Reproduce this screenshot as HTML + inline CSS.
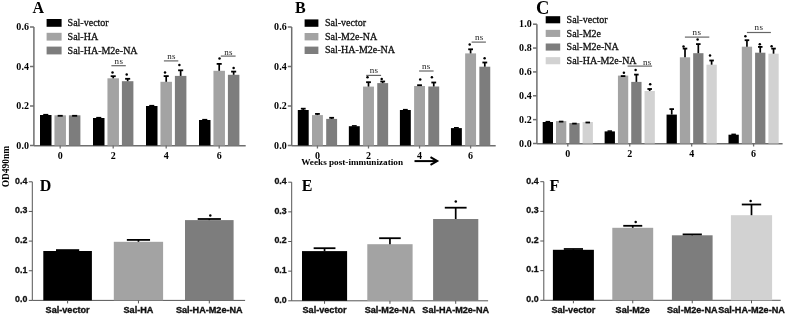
<!DOCTYPE html>
<html><head><meta charset="utf-8"><style>
html,body{margin:0;padding:0;background:#fff;width:787px;height:316px;overflow:hidden}
svg{display:block;will-change:transform}
</style></head><body>
<svg width="787" height="316" viewBox="0 0 787 316">
<rect width="787" height="316" fill="#fff"/>
<line x1="33.90" y1="27.00" x2="33.90" y2="145.70" stroke="#6e6e6e" stroke-width="1.5"/>
<line x1="33.90" y1="145.70" x2="245.70" y2="145.70" stroke="#6e6e6e" stroke-width="1.5"/>
<line x1="30.00" y1="145.50" x2="33.90" y2="145.50" stroke="#6e6e6e" stroke-width="1.5"/>
<text x="29.20" y="148.50" font-family='"Liberation Serif", serif' font-size="10" font-weight="bold" text-anchor="end" fill="#000" letter-spacing="0.15">0.0</text>
<line x1="30.00" y1="106.00" x2="33.90" y2="106.00" stroke="#6e6e6e" stroke-width="1.5"/>
<text x="29.20" y="109.00" font-family='"Liberation Serif", serif' font-size="10" font-weight="bold" text-anchor="end" fill="#000" letter-spacing="0.15">0.2</text>
<line x1="30.00" y1="66.50" x2="33.90" y2="66.50" stroke="#6e6e6e" stroke-width="1.5"/>
<text x="29.20" y="69.50" font-family='"Liberation Serif", serif' font-size="10" font-weight="bold" text-anchor="end" fill="#000" letter-spacing="0.15">0.4</text>
<line x1="30.00" y1="27.00" x2="33.90" y2="27.00" stroke="#6e6e6e" stroke-width="1.5"/>
<text x="29.20" y="30.00" font-family='"Liberation Serif", serif' font-size="10" font-weight="bold" text-anchor="end" fill="#000" letter-spacing="0.15">0.6</text>
<text x="38.20" y="12.80" font-family='"Liberation Serif", serif' font-size="16" font-weight="bold" text-anchor="middle" fill="#000" >A</text>
<rect x="46.60" y="19.00" width="15.00" height="7.80" fill="#000000"/>
<text x="67.60" y="26.00" font-family='"Liberation Serif", serif' font-size="10" font-weight="normal" text-anchor="start" fill="#111" stroke="#111" stroke-width="0.3">Sal-vector</text>
<rect x="46.60" y="32.80" width="15.00" height="7.80" fill="#a3a3a3"/>
<text x="67.60" y="39.80" font-family='"Liberation Serif", serif' font-size="10" font-weight="normal" text-anchor="start" fill="#111" stroke="#111" stroke-width="0.3">Sal-HA</text>
<rect x="46.60" y="46.60" width="15.00" height="7.80" fill="#7d7d7d"/>
<text x="67.60" y="53.60" font-family='"Liberation Serif", serif' font-size="10" font-weight="normal" text-anchor="start" fill="#111" stroke="#111" stroke-width="0.3">Sal-HA-M2e-NA</text>
<rect x="40.00" y="115.00" width="11.50" height="30.50" fill="#000000"/>
<rect x="43.22" y="113.90" width="5.06" height="1.60" fill="#000"/>
<rect x="54.45" y="115.30" width="11.50" height="30.20" fill="#a3a3a3"/>
<rect x="57.67" y="114.90" width="5.06" height="1.80" fill="#000"/>
<rect x="68.90" y="115.30" width="11.50" height="30.20" fill="#7d7d7d"/>
<rect x="72.12" y="114.90" width="5.06" height="1.80" fill="#000"/>
<line x1="60.20" y1="145.50" x2="60.20" y2="148.50" stroke="#6e6e6e" stroke-width="1.3"/>
<text x="60.20" y="158.90" font-family='"Liberation Serif", serif' font-size="10" font-weight="bold" text-anchor="middle" fill="#000" >0</text>
<rect x="93.00" y="118.00" width="11.50" height="27.50" fill="#000000"/>
<rect x="96.22" y="116.90" width="5.06" height="1.60" fill="#000"/>
<rect x="107.45" y="78.30" width="11.50" height="67.20" fill="#a3a3a3"/>
<line x1="113.20" y1="78.30" x2="113.20" y2="76.20" stroke="#000" stroke-width="1.7"/>
<line x1="110.67" y1="76.20" x2="115.73" y2="76.20" stroke="#000" stroke-width="1.8"/>
<rect x="121.90" y="81.20" width="11.50" height="64.30" fill="#7d7d7d"/>
<line x1="127.65" y1="81.20" x2="127.65" y2="78.80" stroke="#000" stroke-width="1.7"/>
<line x1="125.12" y1="78.80" x2="130.18" y2="78.80" stroke="#000" stroke-width="1.8"/>
<line x1="113.20" y1="145.50" x2="113.20" y2="148.50" stroke="#6e6e6e" stroke-width="1.3"/>
<text x="113.20" y="158.90" font-family='"Liberation Serif", serif' font-size="10" font-weight="bold" text-anchor="middle" fill="#000" >2</text>
<rect x="146.00" y="106.00" width="11.50" height="39.50" fill="#000000"/>
<rect x="149.22" y="104.90" width="5.06" height="1.60" fill="#000"/>
<rect x="160.45" y="81.80" width="11.50" height="63.70" fill="#a3a3a3"/>
<line x1="166.20" y1="81.80" x2="166.20" y2="76.10" stroke="#000" stroke-width="1.7"/>
<line x1="163.67" y1="76.10" x2="168.73" y2="76.10" stroke="#000" stroke-width="1.8"/>
<rect x="174.90" y="75.90" width="11.50" height="69.60" fill="#7d7d7d"/>
<line x1="180.65" y1="75.90" x2="180.65" y2="70.30" stroke="#000" stroke-width="1.7"/>
<line x1="178.12" y1="70.30" x2="183.18" y2="70.30" stroke="#000" stroke-width="1.8"/>
<line x1="166.20" y1="145.50" x2="166.20" y2="148.50" stroke="#6e6e6e" stroke-width="1.3"/>
<text x="166.20" y="158.90" font-family='"Liberation Serif", serif' font-size="10" font-weight="bold" text-anchor="middle" fill="#000" >4</text>
<rect x="199.00" y="120.00" width="11.50" height="25.50" fill="#000000"/>
<rect x="202.22" y="118.90" width="5.06" height="1.60" fill="#000"/>
<rect x="213.45" y="70.80" width="11.50" height="74.70" fill="#a3a3a3"/>
<line x1="219.20" y1="70.80" x2="219.20" y2="63.90" stroke="#000" stroke-width="1.7"/>
<line x1="216.67" y1="63.90" x2="221.73" y2="63.90" stroke="#000" stroke-width="1.8"/>
<rect x="227.90" y="74.80" width="11.50" height="70.70" fill="#7d7d7d"/>
<line x1="233.65" y1="74.80" x2="233.65" y2="71.60" stroke="#000" stroke-width="1.7"/>
<line x1="231.12" y1="71.60" x2="236.18" y2="71.60" stroke="#000" stroke-width="1.8"/>
<line x1="219.20" y1="145.50" x2="219.20" y2="148.50" stroke="#6e6e6e" stroke-width="1.3"/>
<text x="219.20" y="158.90" font-family='"Liberation Serif", serif' font-size="10" font-weight="bold" text-anchor="middle" fill="#000" >6</text>
<circle cx="112.50" cy="72.60" r="1.25" fill="#000"/>
<circle cx="126.70" cy="74.60" r="1.25" fill="#000"/>
<circle cx="165.00" cy="72.50" r="1.25" fill="#000"/>
<circle cx="179.40" cy="65.10" r="1.25" fill="#000"/>
<circle cx="219.50" cy="58.50" r="1.25" fill="#000"/>
<circle cx="233.60" cy="67.90" r="1.25" fill="#000"/>
<line x1="111.40" y1="65.70" x2="125.80" y2="65.70" stroke="#666" stroke-width="1.2"/>
<text x="114.60" y="63.50" font-family='"Liberation Serif", serif' font-size="9" font-weight="normal" text-anchor="start" fill="#222" letter-spacing="0.3">ns</text>
<line x1="163.90" y1="60.90" x2="178.30" y2="60.90" stroke="#666" stroke-width="1.2"/>
<text x="167.20" y="59.00" font-family='"Liberation Serif", serif' font-size="9" font-weight="normal" text-anchor="start" fill="#222" letter-spacing="0.3">ns</text>
<line x1="220.80" y1="56.10" x2="235.60" y2="56.10" stroke="#666" stroke-width="1.2"/>
<text x="224.20" y="54.70" font-family='"Liberation Serif", serif' font-size="9" font-weight="normal" text-anchor="start" fill="#222" letter-spacing="0.3">ns</text>
<line x1="291.70" y1="27.00" x2="291.70" y2="145.70" stroke="#6e6e6e" stroke-width="1.5"/>
<line x1="291.70" y1="145.70" x2="495.70" y2="145.70" stroke="#6e6e6e" stroke-width="1.5"/>
<line x1="287.80" y1="145.50" x2="291.70" y2="145.50" stroke="#6e6e6e" stroke-width="1.5"/>
<text x="287.00" y="148.50" font-family='"Liberation Serif", serif' font-size="10" font-weight="bold" text-anchor="end" fill="#000" letter-spacing="0.15">0.0</text>
<line x1="287.80" y1="106.00" x2="291.70" y2="106.00" stroke="#6e6e6e" stroke-width="1.5"/>
<text x="287.00" y="109.00" font-family='"Liberation Serif", serif' font-size="10" font-weight="bold" text-anchor="end" fill="#000" letter-spacing="0.15">0.2</text>
<line x1="287.80" y1="66.50" x2="291.70" y2="66.50" stroke="#6e6e6e" stroke-width="1.5"/>
<text x="287.00" y="69.50" font-family='"Liberation Serif", serif' font-size="10" font-weight="bold" text-anchor="end" fill="#000" letter-spacing="0.15">0.4</text>
<line x1="287.80" y1="27.00" x2="291.70" y2="27.00" stroke="#6e6e6e" stroke-width="1.5"/>
<text x="287.00" y="30.00" font-family='"Liberation Serif", serif' font-size="10" font-weight="bold" text-anchor="end" fill="#000" letter-spacing="0.15">0.6</text>
<text x="300.30" y="12.80" font-family='"Liberation Serif", serif' font-size="16" font-weight="bold" text-anchor="middle" fill="#000" >B</text>
<rect x="304.60" y="19.40" width="13.80" height="7.40" fill="#000000"/>
<text x="325.00" y="26.20" font-family='"Liberation Serif", serif' font-size="10" font-weight="normal" text-anchor="start" fill="#111" stroke="#111" stroke-width="0.3">Sal-vector</text>
<rect x="304.60" y="33.00" width="13.80" height="7.40" fill="#a3a3a3"/>
<text x="325.00" y="39.80" font-family='"Liberation Serif", serif' font-size="10" font-weight="normal" text-anchor="start" fill="#111" stroke="#111" stroke-width="0.3">Sal-M2e-NA</text>
<rect x="304.60" y="46.60" width="13.80" height="7.40" fill="#7d7d7d"/>
<text x="325.00" y="53.40" font-family='"Liberation Serif", serif' font-size="10" font-weight="normal" text-anchor="start" fill="#111" stroke="#111" stroke-width="0.3">Sal-HA-M2e-NA</text>
<rect x="297.80" y="110.00" width="10.90" height="35.50" fill="#000000"/>
<line x1="303.25" y1="110.00" x2="303.25" y2="108.70" stroke="#000" stroke-width="1.7"/>
<line x1="300.85" y1="108.70" x2="305.65" y2="108.70" stroke="#000" stroke-width="1.8"/>
<rect x="312.00" y="115.10" width="10.90" height="30.40" fill="#a3a3a3"/>
<line x1="317.45" y1="115.10" x2="317.45" y2="113.90" stroke="#000" stroke-width="1.7"/>
<line x1="315.05" y1="113.90" x2="319.85" y2="113.90" stroke="#000" stroke-width="1.8"/>
<rect x="326.20" y="118.90" width="10.90" height="26.60" fill="#7d7d7d"/>
<line x1="331.65" y1="118.90" x2="331.65" y2="117.80" stroke="#000" stroke-width="1.7"/>
<line x1="329.25" y1="117.80" x2="334.05" y2="117.80" stroke="#000" stroke-width="1.8"/>
<line x1="317.45" y1="145.50" x2="317.45" y2="148.50" stroke="#6e6e6e" stroke-width="1.3"/>
<text x="317.45" y="158.80" font-family='"Liberation Serif", serif' font-size="10" font-weight="bold" text-anchor="middle" fill="#000" >0</text>
<rect x="348.85" y="126.20" width="10.90" height="19.30" fill="#000000"/>
<rect x="351.90" y="125.10" width="4.80" height="1.60" fill="#000"/>
<rect x="363.05" y="86.60" width="10.90" height="58.90" fill="#a3a3a3"/>
<line x1="368.50" y1="86.60" x2="368.50" y2="82.20" stroke="#000" stroke-width="1.7"/>
<line x1="366.10" y1="82.20" x2="370.90" y2="82.20" stroke="#000" stroke-width="1.8"/>
<rect x="377.25" y="83.10" width="10.90" height="62.40" fill="#7d7d7d"/>
<line x1="382.70" y1="83.10" x2="382.70" y2="81.50" stroke="#000" stroke-width="1.7"/>
<line x1="380.30" y1="81.50" x2="385.10" y2="81.50" stroke="#000" stroke-width="1.8"/>
<line x1="368.50" y1="145.50" x2="368.50" y2="148.50" stroke="#6e6e6e" stroke-width="1.3"/>
<text x="368.50" y="158.80" font-family='"Liberation Serif", serif' font-size="10" font-weight="bold" text-anchor="middle" fill="#000" >2</text>
<rect x="399.90" y="110.00" width="10.90" height="35.50" fill="#000000"/>
<rect x="402.95" y="108.90" width="4.80" height="1.60" fill="#000"/>
<rect x="414.10" y="86.00" width="10.90" height="59.50" fill="#a3a3a3"/>
<line x1="419.55" y1="86.00" x2="419.55" y2="85.20" stroke="#000" stroke-width="1.7"/>
<line x1="417.15" y1="85.20" x2="421.95" y2="85.20" stroke="#000" stroke-width="1.8"/>
<rect x="428.30" y="86.50" width="10.90" height="59.00" fill="#7d7d7d"/>
<line x1="433.75" y1="86.50" x2="433.75" y2="82.50" stroke="#000" stroke-width="1.7"/>
<line x1="431.35" y1="82.50" x2="436.15" y2="82.50" stroke="#000" stroke-width="1.8"/>
<line x1="419.55" y1="145.50" x2="419.55" y2="148.50" stroke="#6e6e6e" stroke-width="1.3"/>
<text x="419.55" y="158.80" font-family='"Liberation Serif", serif' font-size="10" font-weight="bold" text-anchor="middle" fill="#000" >4</text>
<rect x="450.95" y="128.10" width="10.90" height="17.40" fill="#000000"/>
<rect x="454.00" y="127.00" width="4.80" height="1.60" fill="#000"/>
<rect x="465.15" y="53.40" width="10.90" height="92.10" fill="#a3a3a3"/>
<line x1="470.60" y1="53.40" x2="470.60" y2="49.30" stroke="#000" stroke-width="1.7"/>
<line x1="468.20" y1="49.30" x2="473.00" y2="49.30" stroke="#000" stroke-width="1.8"/>
<rect x="479.35" y="66.70" width="10.90" height="78.80" fill="#7d7d7d"/>
<line x1="484.80" y1="66.70" x2="484.80" y2="62.50" stroke="#000" stroke-width="1.7"/>
<line x1="482.40" y1="62.50" x2="487.20" y2="62.50" stroke="#000" stroke-width="1.8"/>
<line x1="470.60" y1="145.50" x2="470.60" y2="148.50" stroke="#6e6e6e" stroke-width="1.3"/>
<text x="470.60" y="158.80" font-family='"Liberation Serif", serif' font-size="10" font-weight="bold" text-anchor="middle" fill="#000" >6</text>
<circle cx="367.50" cy="77.30" r="1.25" fill="#000"/>
<circle cx="381.70" cy="79.10" r="1.25" fill="#000"/>
<circle cx="420.20" cy="79.50" r="1.25" fill="#000"/>
<circle cx="431.90" cy="77.30" r="1.25" fill="#000"/>
<circle cx="469.70" cy="44.40" r="1.25" fill="#000"/>
<circle cx="484.60" cy="58.20" r="1.25" fill="#000"/>
<line x1="366.20" y1="75.40" x2="381.10" y2="75.40" stroke="#666" stroke-width="1.2"/>
<text x="369.80" y="73.20" font-family='"Liberation Serif", serif' font-size="9" font-weight="normal" text-anchor="start" fill="#222" letter-spacing="0.3">ns</text>
<line x1="419.10" y1="71.00" x2="433.60" y2="71.00" stroke="#666" stroke-width="1.2"/>
<text x="422.00" y="68.50" font-family='"Liberation Serif", serif' font-size="9" font-weight="normal" text-anchor="start" fill="#222" letter-spacing="0.3">ns</text>
<line x1="471.60" y1="42.10" x2="485.90" y2="42.10" stroke="#666" stroke-width="1.2"/>
<text x="474.90" y="39.80" font-family='"Liberation Serif", serif' font-size="9" font-weight="normal" text-anchor="start" fill="#222" letter-spacing="0.3">ns</text>
<text x="301.20" y="165.20" font-family='"Liberation Serif", serif' font-size="9.2" font-weight="bold" text-anchor="start" fill="#000" >Weeks post-immunization</text>
<line x1="414.50" y1="161.10" x2="436.50" y2="161.10" stroke="#000" stroke-width="2"/>
<polyline points="430.5,157.2 437.2,161.1 430.5,164.9" fill="none" stroke="#000" stroke-width="2"/>
<line x1="536.90" y1="24.20" x2="536.90" y2="143.70" stroke="#6e6e6e" stroke-width="1.5"/>
<line x1="536.90" y1="143.70" x2="782.60" y2="143.70" stroke="#6e6e6e" stroke-width="1.5"/>
<line x1="533.00" y1="143.50" x2="536.90" y2="143.50" stroke="#6e6e6e" stroke-width="1.5"/>
<text x="532.00" y="146.50" font-family='"Liberation Serif", serif' font-size="10" font-weight="bold" text-anchor="end" fill="#000" letter-spacing="0.15">0.0</text>
<line x1="533.00" y1="119.64" x2="536.90" y2="119.64" stroke="#6e6e6e" stroke-width="1.5"/>
<text x="532.00" y="122.64" font-family='"Liberation Serif", serif' font-size="10" font-weight="bold" text-anchor="end" fill="#000" letter-spacing="0.15">0.2</text>
<line x1="533.00" y1="95.78" x2="536.90" y2="95.78" stroke="#6e6e6e" stroke-width="1.5"/>
<text x="532.00" y="98.78" font-family='"Liberation Serif", serif' font-size="10" font-weight="bold" text-anchor="end" fill="#000" letter-spacing="0.15">0.4</text>
<line x1="533.00" y1="71.92" x2="536.90" y2="71.92" stroke="#6e6e6e" stroke-width="1.5"/>
<text x="532.00" y="74.92" font-family='"Liberation Serif", serif' font-size="10" font-weight="bold" text-anchor="end" fill="#000" letter-spacing="0.15">0.6</text>
<line x1="533.00" y1="48.06" x2="536.90" y2="48.06" stroke="#6e6e6e" stroke-width="1.5"/>
<text x="532.00" y="51.06" font-family='"Liberation Serif", serif' font-size="10" font-weight="bold" text-anchor="end" fill="#000" letter-spacing="0.15">0.8</text>
<line x1="533.00" y1="24.20" x2="536.90" y2="24.20" stroke="#6e6e6e" stroke-width="1.5"/>
<text x="532.00" y="27.20" font-family='"Liberation Serif", serif' font-size="10" font-weight="bold" text-anchor="end" fill="#000" letter-spacing="0.15">1.0</text>
<text x="542.60" y="13.80" font-family='"Liberation Serif", serif' font-size="18.5" font-weight="bold" text-anchor="middle" fill="#000" >C</text>
<rect x="545.70" y="16.20" width="14.50" height="7.10" fill="#000000"/>
<text x="566.60" y="22.90" font-family='"Liberation Serif", serif' font-size="10" font-weight="normal" text-anchor="start" fill="#111" stroke="#111" stroke-width="0.3">Sal-vector</text>
<rect x="545.70" y="29.85" width="14.50" height="7.10" fill="#a3a3a3"/>
<text x="566.60" y="36.55" font-family='"Liberation Serif", serif' font-size="10" font-weight="normal" text-anchor="start" fill="#111" stroke="#111" stroke-width="0.3">Sal-M2e</text>
<rect x="545.70" y="43.50" width="14.50" height="7.10" fill="#7d7d7d"/>
<text x="566.60" y="50.20" font-family='"Liberation Serif", serif' font-size="10" font-weight="normal" text-anchor="start" fill="#111" stroke="#111" stroke-width="0.3">Sal-M2e-NA</text>
<rect x="545.70" y="57.15" width="14.50" height="7.10" fill="#d2d2d2"/>
<text x="566.60" y="63.85" font-family='"Liberation Serif", serif' font-size="10" font-weight="normal" text-anchor="start" fill="#111" stroke="#111" stroke-width="0.3">Sal-HA-M2e-NA</text>
<rect x="542.70" y="122.00" width="10.30" height="21.50" fill="#000000"/>
<rect x="545.58" y="120.90" width="4.53" height="1.60" fill="#000"/>
<rect x="556.00" y="121.10" width="10.30" height="22.40" fill="#a3a3a3"/>
<rect x="558.88" y="120.70" width="4.53" height="1.80" fill="#000"/>
<rect x="569.30" y="123.10" width="10.30" height="20.40" fill="#7d7d7d"/>
<rect x="572.18" y="122.70" width="4.53" height="1.80" fill="#000"/>
<rect x="582.60" y="122.00" width="10.30" height="21.50" fill="#d2d2d2"/>
<rect x="585.48" y="121.60" width="4.53" height="1.80" fill="#000"/>
<line x1="567.80" y1="143.50" x2="567.80" y2="146.50" stroke="#6e6e6e" stroke-width="1.3"/>
<text x="567.80" y="156.70" font-family='"Liberation Serif", serif' font-size="10" font-weight="bold" text-anchor="middle" fill="#000" >0</text>
<rect x="604.63" y="131.40" width="10.30" height="12.10" fill="#000000"/>
<rect x="607.51" y="130.30" width="4.53" height="1.60" fill="#000"/>
<rect x="617.93" y="75.60" width="10.30" height="67.90" fill="#a3a3a3"/>
<rect x="620.81" y="75.20" width="4.53" height="1.80" fill="#000"/>
<rect x="631.23" y="81.90" width="10.30" height="61.60" fill="#7d7d7d"/>
<line x1="636.38" y1="81.90" x2="636.38" y2="74.60" stroke="#000" stroke-width="1.7"/>
<line x1="634.11" y1="74.60" x2="638.65" y2="74.60" stroke="#000" stroke-width="1.8"/>
<rect x="644.53" y="91.00" width="10.30" height="52.50" fill="#d2d2d2"/>
<line x1="649.68" y1="91.00" x2="649.68" y2="89.00" stroke="#000" stroke-width="1.7"/>
<line x1="647.41" y1="89.00" x2="651.95" y2="89.00" stroke="#000" stroke-width="1.8"/>
<line x1="629.73" y1="143.50" x2="629.73" y2="146.50" stroke="#6e6e6e" stroke-width="1.3"/>
<text x="629.73" y="156.70" font-family='"Liberation Serif", serif' font-size="10" font-weight="bold" text-anchor="middle" fill="#000" >2</text>
<rect x="666.56" y="114.60" width="10.30" height="28.90" fill="#000000"/>
<line x1="671.71" y1="114.60" x2="671.71" y2="109.10" stroke="#000" stroke-width="1.7"/>
<line x1="669.44" y1="109.10" x2="673.98" y2="109.10" stroke="#000" stroke-width="1.8"/>
<rect x="679.86" y="57.30" width="10.30" height="86.20" fill="#a3a3a3"/>
<line x1="685.01" y1="57.30" x2="685.01" y2="48.60" stroke="#000" stroke-width="1.7"/>
<line x1="682.74" y1="48.60" x2="687.28" y2="48.60" stroke="#000" stroke-width="1.8"/>
<rect x="693.16" y="53.20" width="10.30" height="90.30" fill="#7d7d7d"/>
<line x1="698.31" y1="53.20" x2="698.31" y2="44.10" stroke="#000" stroke-width="1.7"/>
<line x1="696.04" y1="44.10" x2="700.58" y2="44.10" stroke="#000" stroke-width="1.8"/>
<rect x="706.46" y="64.70" width="10.30" height="78.80" fill="#d2d2d2"/>
<line x1="711.61" y1="64.70" x2="711.61" y2="60.50" stroke="#000" stroke-width="1.7"/>
<line x1="709.34" y1="60.50" x2="713.88" y2="60.50" stroke="#000" stroke-width="1.8"/>
<line x1="691.66" y1="143.50" x2="691.66" y2="146.50" stroke="#6e6e6e" stroke-width="1.3"/>
<text x="691.66" y="156.70" font-family='"Liberation Serif", serif' font-size="10" font-weight="bold" text-anchor="middle" fill="#000" >4</text>
<rect x="728.49" y="134.70" width="10.30" height="8.80" fill="#000000"/>
<rect x="731.37" y="133.60" width="4.53" height="1.60" fill="#000"/>
<rect x="741.79" y="46.70" width="10.30" height="96.80" fill="#a3a3a3"/>
<line x1="746.94" y1="46.70" x2="746.94" y2="40.20" stroke="#000" stroke-width="1.7"/>
<line x1="744.67" y1="40.20" x2="749.21" y2="40.20" stroke="#000" stroke-width="1.8"/>
<rect x="755.09" y="52.70" width="10.30" height="90.80" fill="#7d7d7d"/>
<line x1="760.24" y1="52.70" x2="760.24" y2="46.90" stroke="#000" stroke-width="1.7"/>
<line x1="757.97" y1="46.90" x2="762.51" y2="46.90" stroke="#000" stroke-width="1.8"/>
<rect x="768.39" y="53.70" width="10.30" height="89.80" fill="#d2d2d2"/>
<line x1="773.54" y1="53.70" x2="773.54" y2="48.60" stroke="#000" stroke-width="1.7"/>
<line x1="771.27" y1="48.60" x2="775.81" y2="48.60" stroke="#000" stroke-width="1.8"/>
<line x1="753.59" y1="143.50" x2="753.59" y2="146.50" stroke="#6e6e6e" stroke-width="1.3"/>
<text x="753.59" y="156.70" font-family='"Liberation Serif", serif' font-size="10" font-weight="bold" text-anchor="middle" fill="#000" >6</text>
<circle cx="623.90" cy="72.80" r="1.25" fill="#000"/>
<circle cx="635.60" cy="70.00" r="1.25" fill="#000"/>
<circle cx="650.20" cy="84.30" r="1.25" fill="#000"/>
<circle cx="683.50" cy="46.50" r="1.25" fill="#000"/>
<circle cx="697.60" cy="39.60" r="1.25" fill="#000"/>
<circle cx="710.00" cy="55.60" r="1.25" fill="#000"/>
<circle cx="745.40" cy="36.30" r="1.25" fill="#000"/>
<circle cx="759.80" cy="44.20" r="1.25" fill="#000"/>
<circle cx="771.60" cy="46.20" r="1.25" fill="#000"/>
<line x1="627.60" y1="66.10" x2="652.10" y2="66.10" stroke="#666" stroke-width="1.2"/>
<text x="643.00" y="65.40" font-family='"Liberation Serif", serif' font-size="9" font-weight="normal" text-anchor="start" fill="#222" letter-spacing="0.3">ns</text>
<line x1="684.90" y1="37.10" x2="709.30" y2="37.10" stroke="#666" stroke-width="1.2"/>
<text x="692.60" y="34.90" font-family='"Liberation Serif", serif' font-size="9" font-weight="normal" text-anchor="start" fill="#222" letter-spacing="0.3">ns</text>
<line x1="746.90" y1="32.50" x2="770.90" y2="32.50" stroke="#666" stroke-width="1.2"/>
<text x="754.60" y="30.30" font-family='"Liberation Serif", serif' font-size="9" font-weight="normal" text-anchor="start" fill="#222" letter-spacing="0.3">ns</text>
<text x="0.00" y="0.00" font-family='"Liberation Serif", serif' font-size="9.8" font-weight="bold" text-anchor="middle" fill="#000" textLength="41.5" lengthAdjust="spacingAndGlyphs" transform="translate(9.0,166.6) rotate(-90)">OD490nm</text>
<line x1="32.30" y1="181.80" x2="32.30" y2="300.40" stroke="#555555" stroke-width="1.0"/>
<line x1="32.30" y1="300.40" x2="245.10" y2="300.40" stroke="#555555" stroke-width="1.0"/>
<line x1="28.80" y1="300.40" x2="32.30" y2="300.40" stroke="#555555" stroke-width="1.0"/>
<text x="27.30" y="302.20" font-family='"Liberation Sans", sans-serif' font-size="8.8" font-weight="bold" text-anchor="end" fill="#111" stroke="#111" stroke-width="0.3">0.0</text>
<line x1="28.80" y1="270.75" x2="32.30" y2="270.75" stroke="#555555" stroke-width="1.0"/>
<text x="27.30" y="272.55" font-family='"Liberation Sans", sans-serif' font-size="8.8" font-weight="bold" text-anchor="end" fill="#111" stroke="#111" stroke-width="0.3">0.1</text>
<line x1="28.80" y1="241.10" x2="32.30" y2="241.10" stroke="#555555" stroke-width="1.0"/>
<text x="27.30" y="242.90" font-family='"Liberation Sans", sans-serif' font-size="8.8" font-weight="bold" text-anchor="end" fill="#111" stroke="#111" stroke-width="0.3">0.2</text>
<line x1="28.80" y1="211.45" x2="32.30" y2="211.45" stroke="#555555" stroke-width="1.0"/>
<text x="27.30" y="213.25" font-family='"Liberation Sans", sans-serif' font-size="8.8" font-weight="bold" text-anchor="end" fill="#111" stroke="#111" stroke-width="0.3">0.3</text>
<line x1="28.80" y1="181.80" x2="32.30" y2="181.80" stroke="#555555" stroke-width="1.0"/>
<text x="27.30" y="183.60" font-family='"Liberation Sans", sans-serif' font-size="8.8" font-weight="bold" text-anchor="end" fill="#111" stroke="#111" stroke-width="0.3">0.4</text>
<text x="45.50" y="190.70" font-family='"Liberation Serif", serif' font-size="16" font-weight="bold" text-anchor="middle" fill="#000" >D</text>
<rect x="43.30" y="251.00" width="48.60" height="49.40" fill="#000000"/>
<line x1="67.60" y1="251.00" x2="67.60" y2="250.10" stroke="#000" stroke-width="1.7"/>
<line x1="56.00" y1="250.10" x2="79.20" y2="250.10" stroke="#000" stroke-width="1.8"/>
<line x1="67.60" y1="300.40" x2="67.60" y2="303.40" stroke="#555555" stroke-width="1.0"/>
<text x="67.60" y="313.00" font-family='"Liberation Sans", sans-serif' font-size="9.1" font-weight="bold" text-anchor="middle" fill="#111" stroke="#111" stroke-width="0.35">Sal-vector</text>
<rect x="113.80" y="241.80" width="49.30" height="58.60" fill="#a3a3a3"/>
<line x1="138.45" y1="241.80" x2="138.45" y2="239.90" stroke="#000" stroke-width="1.7"/>
<line x1="126.85" y1="239.90" x2="150.05" y2="239.90" stroke="#000" stroke-width="1.8"/>
<line x1="138.45" y1="300.40" x2="138.45" y2="303.40" stroke="#555555" stroke-width="1.0"/>
<text x="138.45" y="313.00" font-family='"Liberation Sans", sans-serif' font-size="9.1" font-weight="bold" text-anchor="middle" fill="#111" stroke="#111" stroke-width="0.35">Sal-HA</text>
<rect x="185.00" y="220.10" width="48.60" height="80.30" fill="#7d7d7d"/>
<line x1="209.30" y1="220.10" x2="209.30" y2="219.00" stroke="#000" stroke-width="1.7"/>
<line x1="197.70" y1="219.00" x2="220.90" y2="219.00" stroke="#000" stroke-width="1.8"/>
<line x1="209.30" y1="300.40" x2="209.30" y2="303.40" stroke="#555555" stroke-width="1.0"/>
<text x="209.30" y="313.00" font-family='"Liberation Sans", sans-serif' font-size="9.1" font-weight="bold" text-anchor="middle" fill="#111" stroke="#111" stroke-width="0.35">Sal-HA-M2e-NA</text>
<circle cx="210.30" cy="215.50" r="1.25" fill="#000"/>
<line x1="291.70" y1="182.20" x2="291.70" y2="300.80" stroke="#555555" stroke-width="1.0"/>
<line x1="291.70" y1="300.80" x2="488.10" y2="300.80" stroke="#555555" stroke-width="1.0"/>
<line x1="288.20" y1="300.80" x2="291.70" y2="300.80" stroke="#555555" stroke-width="1.0"/>
<text x="286.70" y="302.60" font-family='"Liberation Sans", sans-serif' font-size="8.8" font-weight="bold" text-anchor="end" fill="#111" stroke="#111" stroke-width="0.3">0.0</text>
<line x1="288.20" y1="271.15" x2="291.70" y2="271.15" stroke="#555555" stroke-width="1.0"/>
<text x="286.70" y="272.95" font-family='"Liberation Sans", sans-serif' font-size="8.8" font-weight="bold" text-anchor="end" fill="#111" stroke="#111" stroke-width="0.3">0.1</text>
<line x1="288.20" y1="241.50" x2="291.70" y2="241.50" stroke="#555555" stroke-width="1.0"/>
<text x="286.70" y="243.30" font-family='"Liberation Sans", sans-serif' font-size="8.8" font-weight="bold" text-anchor="end" fill="#111" stroke="#111" stroke-width="0.3">0.2</text>
<line x1="288.20" y1="211.85" x2="291.70" y2="211.85" stroke="#555555" stroke-width="1.0"/>
<text x="286.70" y="213.65" font-family='"Liberation Sans", sans-serif' font-size="8.8" font-weight="bold" text-anchor="end" fill="#111" stroke="#111" stroke-width="0.3">0.3</text>
<line x1="288.20" y1="182.20" x2="291.70" y2="182.20" stroke="#555555" stroke-width="1.0"/>
<text x="286.70" y="184.00" font-family='"Liberation Sans", sans-serif' font-size="8.8" font-weight="bold" text-anchor="end" fill="#111" stroke="#111" stroke-width="0.3">0.4</text>
<text x="307.10" y="190.70" font-family='"Liberation Serif", serif' font-size="16" font-weight="bold" text-anchor="middle" fill="#000" >E</text>
<rect x="302.00" y="251.10" width="45.10" height="49.70" fill="#000000"/>
<line x1="324.55" y1="251.10" x2="324.55" y2="248.20" stroke="#000" stroke-width="1.7"/>
<line x1="313.65" y1="248.20" x2="335.45" y2="248.20" stroke="#000" stroke-width="1.8"/>
<line x1="324.55" y1="300.80" x2="324.55" y2="303.80" stroke="#555555" stroke-width="1.0"/>
<text x="324.55" y="313.30" font-family='"Liberation Sans", sans-serif' font-size="9.1" font-weight="bold" text-anchor="middle" fill="#111" stroke="#111" stroke-width="0.35">Sal-vector</text>
<rect x="367.30" y="244.20" width="45.30" height="56.60" fill="#a3a3a3"/>
<line x1="389.95" y1="244.20" x2="389.95" y2="238.20" stroke="#000" stroke-width="1.7"/>
<line x1="379.15" y1="238.20" x2="400.75" y2="238.20" stroke="#000" stroke-width="1.8"/>
<line x1="389.95" y1="300.80" x2="389.95" y2="303.80" stroke="#555555" stroke-width="1.0"/>
<text x="389.95" y="313.30" font-family='"Liberation Sans", sans-serif' font-size="9.1" font-weight="bold" text-anchor="middle" fill="#111" stroke="#111" stroke-width="0.35">Sal-M2e-NA</text>
<rect x="433.10" y="219.00" width="45.20" height="81.80" fill="#7d7d7d"/>
<line x1="455.70" y1="219.00" x2="455.70" y2="207.70" stroke="#000" stroke-width="1.7"/>
<line x1="444.80" y1="207.70" x2="466.60" y2="207.70" stroke="#000" stroke-width="1.8"/>
<line x1="455.70" y1="300.80" x2="455.70" y2="303.80" stroke="#555555" stroke-width="1.0"/>
<text x="455.70" y="313.30" font-family='"Liberation Sans", sans-serif' font-size="9.1" font-weight="bold" text-anchor="middle" fill="#111" stroke="#111" stroke-width="0.35">Sal-HA-M2e-NA</text>
<circle cx="455.80" cy="201.40" r="1.25" fill="#000"/>
<line x1="543.80" y1="181.70" x2="543.80" y2="300.30" stroke="#555555" stroke-width="1.0"/>
<line x1="543.80" y1="300.30" x2="780.70" y2="300.30" stroke="#555555" stroke-width="1.0"/>
<line x1="540.30" y1="300.30" x2="543.80" y2="300.30" stroke="#555555" stroke-width="1.0"/>
<text x="538.60" y="302.10" font-family='"Liberation Sans", sans-serif' font-size="8.8" font-weight="bold" text-anchor="end" fill="#111" stroke="#111" stroke-width="0.3">0.0</text>
<line x1="540.30" y1="270.65" x2="543.80" y2="270.65" stroke="#555555" stroke-width="1.0"/>
<text x="538.60" y="272.45" font-family='"Liberation Sans", sans-serif' font-size="8.8" font-weight="bold" text-anchor="end" fill="#111" stroke="#111" stroke-width="0.3">0.1</text>
<line x1="540.30" y1="241.00" x2="543.80" y2="241.00" stroke="#555555" stroke-width="1.0"/>
<text x="538.60" y="242.80" font-family='"Liberation Sans", sans-serif' font-size="8.8" font-weight="bold" text-anchor="end" fill="#111" stroke="#111" stroke-width="0.3">0.2</text>
<line x1="540.30" y1="211.35" x2="543.80" y2="211.35" stroke="#555555" stroke-width="1.0"/>
<text x="538.60" y="213.15" font-family='"Liberation Sans", sans-serif' font-size="8.8" font-weight="bold" text-anchor="end" fill="#111" stroke="#111" stroke-width="0.3">0.3</text>
<line x1="540.30" y1="181.70" x2="543.80" y2="181.70" stroke="#555555" stroke-width="1.0"/>
<text x="538.60" y="183.50" font-family='"Liberation Sans", sans-serif' font-size="8.8" font-weight="bold" text-anchor="end" fill="#111" stroke="#111" stroke-width="0.3">0.4</text>
<text x="554.40" y="190.70" font-family='"Liberation Serif", serif' font-size="16" font-weight="bold" text-anchor="middle" fill="#000" >F</text>
<rect x="552.90" y="249.80" width="41.00" height="50.50" fill="#000000"/>
<line x1="573.40" y1="249.80" x2="573.40" y2="249.00" stroke="#000" stroke-width="1.7"/>
<line x1="563.80" y1="249.00" x2="583.00" y2="249.00" stroke="#000" stroke-width="1.8"/>
<line x1="573.40" y1="300.30" x2="573.40" y2="303.30" stroke="#555555" stroke-width="1.0"/>
<text x="573.40" y="312.60" font-family='"Liberation Sans", sans-serif' font-size="9.1" font-weight="bold" text-anchor="middle" fill="#111" stroke="#111" stroke-width="0.35">Sal-vector</text>
<rect x="612.30" y="227.80" width="40.90" height="72.50" fill="#a3a3a3"/>
<line x1="632.75" y1="227.80" x2="632.75" y2="225.80" stroke="#000" stroke-width="1.7"/>
<line x1="623.25" y1="225.80" x2="642.25" y2="225.80" stroke="#000" stroke-width="1.8"/>
<line x1="632.75" y1="300.30" x2="632.75" y2="303.30" stroke="#555555" stroke-width="1.0"/>
<text x="632.75" y="312.60" font-family='"Liberation Sans", sans-serif' font-size="9.1" font-weight="bold" text-anchor="middle" fill="#111" stroke="#111" stroke-width="0.35">Sal-M2e</text>
<rect x="671.90" y="235.30" width="40.70" height="65.00" fill="#7d7d7d"/>
<line x1="692.25" y1="235.30" x2="692.25" y2="234.40" stroke="#000" stroke-width="1.7"/>
<line x1="682.65" y1="234.40" x2="701.85" y2="234.40" stroke="#000" stroke-width="1.8"/>
<line x1="692.25" y1="300.30" x2="692.25" y2="303.30" stroke="#555555" stroke-width="1.0"/>
<text x="692.25" y="312.60" font-family='"Liberation Sans", sans-serif' font-size="9.1" font-weight="bold" text-anchor="middle" fill="#111" stroke="#111" stroke-width="0.35">Sal-M2e-NA</text>
<rect x="730.90" y="215.20" width="41.20" height="85.10" fill="#d2d2d2"/>
<line x1="751.50" y1="215.20" x2="751.50" y2="204.50" stroke="#000" stroke-width="1.7"/>
<line x1="741.80" y1="204.50" x2="761.20" y2="204.50" stroke="#000" stroke-width="1.8"/>
<line x1="751.50" y1="300.30" x2="751.50" y2="303.30" stroke="#555555" stroke-width="1.0"/>
<text x="751.50" y="312.60" font-family='"Liberation Sans", sans-serif' font-size="9.1" font-weight="bold" text-anchor="middle" fill="#111" stroke="#111" stroke-width="0.35">Sal-HA-M2e-NA</text>
<circle cx="635.70" cy="222.00" r="1.25" fill="#000"/>
<circle cx="750.60" cy="200.90" r="1.25" fill="#000"/>
</svg>
</body></html>
